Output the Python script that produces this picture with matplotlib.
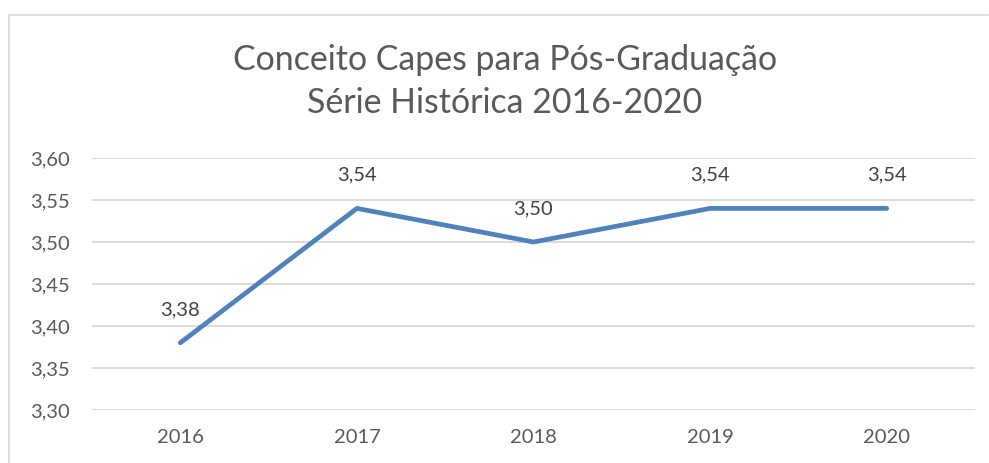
import matplotlib
matplotlib.use("Agg")
import matplotlib.pyplot as plt
from matplotlib.lines import Line2D

years = ["2016", "2017", "2018", "2019", "2020"]
conceito = [3.38, 3.54, 3.50, 3.54, 3.54]
y_ticks = [3.30, 3.35, 3.40, 3.45, 3.50, 3.55, 3.60]

TXT = "#595959"
GRID = "#D9D9D9"
LINE = "#4F81BD"
W, H = 989, 463

plt.rcParams["font.family"] = ["Lato", "DejaVu Sans"]

fig = plt.figure(figsize=(W / 100, H / 100), dpi=100)
ax = fig.add_axes([92 / W, 1 - 410 / H, (975 - 92) / W, (410 - 158) / H])

x = list(range(len(years)))
ax.plot(x, conceito, color=LINE, lw=3.4, solid_capstyle="round", solid_joinstyle="round", zorder=3)
for xi, v in zip(x, conceito):
    ax.annotate(f"{v:.2f}".replace(".", ","), (xi, v), xytext=(0, 24), textcoords="offset points",
                ha="center", va="center", fontsize=14.5, color="#404040")

ax.set_xlim(-0.5, len(years) - 0.5)
ax.set_ylim(3.30, 3.60)
ax.set_yticks(y_ticks)
ax.set_yticklabels([f"{t:.2f}".replace(".", ",") for t in y_ticks])
ax.set_xticks(x)
ax.set_xticklabels(years)
ax.tick_params(length=0, labelsize=14.5, labelcolor=TXT)
ax.tick_params(axis="y", pad=16)
ax.tick_params(axis="x", pad=14)
ax.grid(axis="y", color=GRID, lw=1.3)
ax.set_axisbelow(True)
for s in ax.spines.values():
    s.set_visible(False)

fig.text(505 / W, 1 - 60 / H, "Conceito Capes para Pós-Graduação", ha="center", va="center",
         fontsize=24.4, color=TXT)
fig.text(505 / W, 1 - 103 / H, "Série Histórica 2016-2020", ha="center", va="center",
         fontsize=24.4, color=TXT)

# chart border (partly cropped in the original)
fig.add_artist(Line2D([9 / W, 9 / W], [0, 1 - 15 / H], color=GRID, lw=1.2, transform=fig.transFigure))
fig.add_artist(Line2D([9 / W, 988 / W], [1 - 15 / H, 1 - 15 / H], color=GRID, lw=1.2, transform=fig.transFigure))

fig.savefig("out.png", dpi=100)
